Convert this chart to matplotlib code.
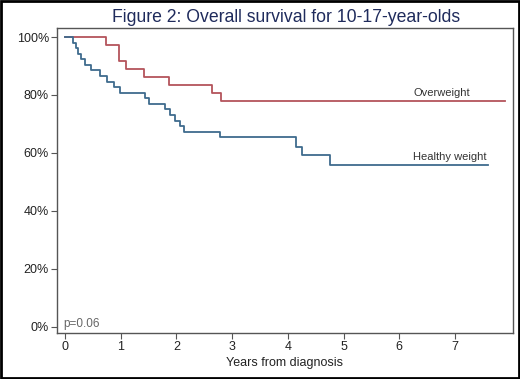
import matplotlib
matplotlib.use("Agg")
import matplotlib.pyplot as plt
from matplotlib.patches import Rectangle

plt.rcParams["font.family"] = ["Liberation Sans", "DejaVu Sans"]

# Kaplan-Meier steps (years, % surviving)
ow_years = [0, 0.73, 0.96, 1.10, 1.42, 1.87, 2.63, 2.80, 7.9]
ow_surv = [100, 97.2, 91.7, 88.9, 86.1, 83.3, 80.6, 77.8, 77.8]

hw_years = [0, 0.14, 0.19, 0.24, 0.29, 0.36, 0.47, 0.63, 0.76, 0.88, 0.98,
            1.44, 1.50, 1.80, 1.88, 1.97, 2.06, 2.14, 2.78, 4.15, 4.26,
            4.75, 7.6]
hw_surv = [100, 98.1, 96.2, 94.2, 92.3, 90.4, 88.5, 86.5, 84.6, 82.7, 80.8,
           78.8, 76.9, 75.0, 73.1, 71.2, 69.2, 67.3, 65.4, 62.2, 59.2,
           55.8, 55.8]

x_ticks = [0, 1, 2, 3, 4, 5, 6, 7]
y_ticks = [0, 20, 40, 60, 80, 100]
y_labels = ["0%", "20%", "40%", "60%", "80%", "100%"]

red = "#b4545c"
blue = "#3f6b8e"
grey = "#555555"

fig = plt.figure(figsize=(5.2, 3.79), dpi=100)
ax = fig.add_axes([0.109, 0.1206, 0.8775, 0.8047])

ax.step(ow_years, ow_surv, where="post", color=red, lw=1.3)
ax.step(hw_years, hw_surv, where="post", color=blue, lw=1.3)

ax.text(7.27, 80.6, "Overweight", ha="right", va="center", fontsize=8, color="#333333")
ax.text(7.57, 58.7, "Healthy weight", ha="right", va="center", fontsize=8, color="#333333")
ax.text(-0.04, 0.9, "p=0.06", ha="left", va="center", fontsize=8.5, color="#666666")

ax.set_xlim(-0.15, 8.04)
ax.set_ylim(-2.2, 103.0)
ax.set_xticks(x_ticks)
ax.set_yticks(y_ticks)
ax.set_yticklabels(y_labels)
ax.tick_params(axis="both", length=4, width=0.8, color=grey, labelsize=9,
               labelcolor="#222222", pad=1.5)
ax.set_xlabel("Years from diagnosis", fontsize=9, color="#222222", labelpad=3)
for s in ax.spines.values():
    s.set_color(grey)
    s.set_linewidth(1.0)

fig.text(0.55, 0.955, "Figure 2: Overall survival for 10-17-year-olds",
         ha="center", va="center", fontsize=12.7, color="#1f2b5c")

fig.patches.append(Rectangle((0.002, 0.003), 0.996, 0.994, transform=fig.transFigure,
                             fill=False, edgecolor="black", lw=2))

fig.savefig("out.png", dpi=100)
